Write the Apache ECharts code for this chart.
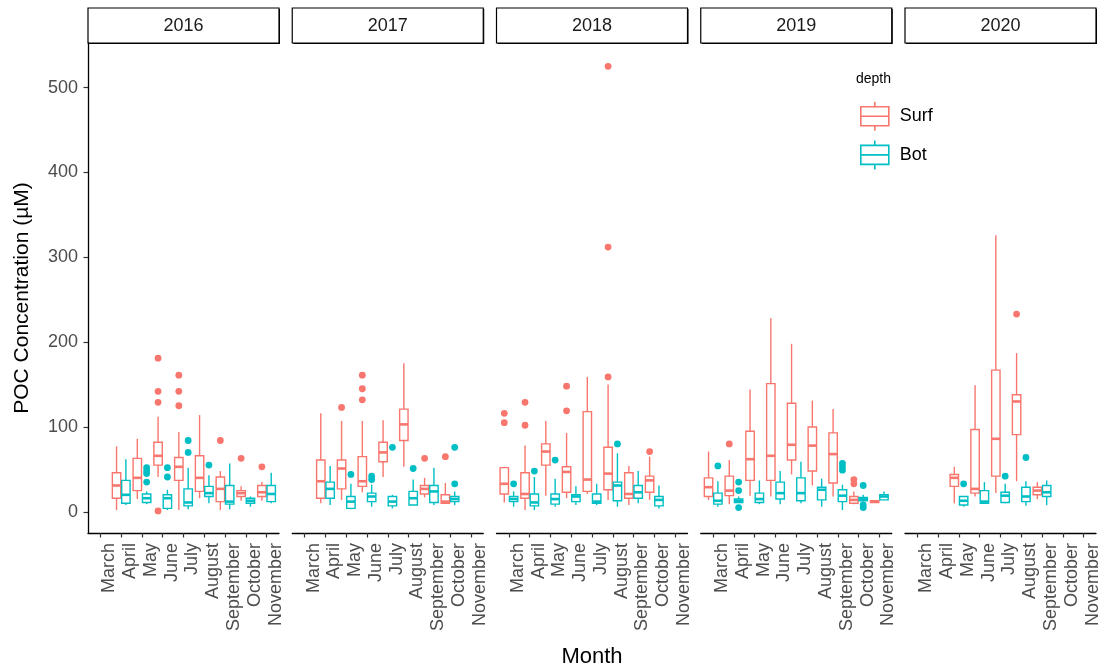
<!DOCTYPE html>
<html>
<head>
<meta charset="utf-8">
<title>POC Concentration by month and depth</title>
<script src="https://cdn.jsdelivr.net/npm/echarts@6/dist/echarts.min.js"></script>
<style>
  html, body { margin: 0; padding: 0; background: #fff; }
  #chart { width: 1108px; height: 671px; }
</style>
</head>
<body>
<div id="chart"></div>
<script>
// Categories
const months = ['March', 'April', 'May', 'June', 'July', 'August', 'September', 'October', 'November'];
const years = ['2016', '2017', '2018', '2019', '2020'];
const yTicks = [0, 100, 200, 300, 400, 500];

// Box statistics per month: [month, lower whisker, Q1, median, Q3, upper whisker]
const surf2016 = [
  ['April', 2, 16, 31, 46, 77],
  ['May', 15, 25, 40, 63, 86],
  ['June', 41, 55, 66, 82, 112],
  ['July', 2, 37, 53, 64, 94],
  ['August', 16, 24, 40, 66, 114],
  ['September', 2, 12, 27, 41, 48],
  ['October', 13, 18, 22, 25, 30],
  ['November', 13, 18, 23, 31, 35]
];
const bot2016 = [
  ['April', 8, 10, 20, 37, 62],
  ['May', 9, 11, 16, 21, 24],
  ['June', 2, 4, 16, 20, 26],
  ['July', 3, 7, 11, 27, 52],
  ['August', 10, 18, 22, 30, 43],
  ['September', 3, 9, 12, 31, 57],
  ['October', 6, 10, 13, 16, 18],
  ['November', 10, 12, 21, 31, 46]
];
const surf2017 = [
  ['April', 10, 16, 36, 61, 116],
  ['May', 14, 27, 51, 61, 107],
  ['June', 23, 30, 36, 65, 107],
  ['July', 41, 59, 70, 82, 108],
  ['August', 53, 84, 103, 121, 175],
  ['September', 17, 21, 27, 31, 40],
  ['October', 10, 10, 12, 20, 34]
];
const bot2017 = [
  ['April', 8, 16, 27, 35, 54],
  ['May', 3, 4, 12, 18, 33],
  ['June', 6, 12, 18, 22, 32],
  ['July', 4, 7, 12, 18, 20],
  ['August', 8, 8, 16, 24, 38],
  ['September', 8, 11, 24, 31, 52],
  ['October', 8, 12, 15, 18, 24]
];
const surf2018 = [
  ['March', 11, 21, 33, 52, 53],
  ['April', 2, 16, 21, 46, 78],
  ['May', 19, 55, 71, 80, 107],
  ['June', 16, 23, 47, 53, 93],
  ['July', 21, 24, 38, 118, 159],
  ['August', 14, 26, 45, 76, 150],
  ['September', 8, 16, 21, 46, 54],
  ['October', 14, 23, 37, 42, 65]
];
const bot2018 = [
  ['March', 6, 12, 15, 18, 24],
  ['April', 2, 7, 11, 21, 41],
  ['May', 6, 9, 15, 21, 39],
  ['June', 8, 12, 18, 20, 30],
  ['July', 8, 10, 12, 21, 33],
  ['August', 6, 13, 31, 35, 69],
  ['September', 10, 16, 23, 31, 48],
  ['October', 4, 7, 14, 18, 31]
];
const surf2019 = [
  ['March', 14, 18, 29, 40, 71],
  ['April', 9, 19, 25, 42, 61],
  ['May', 19, 37, 62, 95, 144],
  ['June', 18, 37, 66, 151, 228],
  ['July', 44, 61, 79, 128, 198],
  ['August', 31, 48, 78, 100, 131],
  ['September', 18, 34, 68, 93, 121],
  ['October', 9, 10, 14, 18, 24],
  ['November', 11, 11, 12, 13, 13]
];
const bot2019 = [
  ['March', 6, 9, 13, 22, 36],
  ['April', 11, 11, 13, 15, 18],
  ['May', 9, 11, 15, 22, 37],
  ['June', 9, 15, 22, 35, 48],
  ['July', 10, 13, 22, 40, 59],
  ['August', 6, 14, 26, 29, 39],
  ['September', 2, 12, 19, 26, 32],
  ['October', 12, 13, 15, 17, 20],
  ['November', 14, 14, 18, 20, 24]
];
const surf2020 = [
  ['May', 10, 30, 40, 44, 53],
  ['June', 18, 22, 27, 97, 149],
  ['July', 22, 42, 86, 167, 326],
  ['August', 36, 91, 130, 138, 187],
  ['September', 15, 20, 25, 29, 35]
];
const bot2020 = [
  ['May', 6, 8, 13, 18, 18],
  ['June', 10, 10, 12, 25, 35],
  ['July', 10, 11, 19, 23, 33],
  ['August', 7, 12, 18, 29, 36],
  ['September', 8, 18, 23, 31, 37]
];

// Outlying observations: [month, value]
const surfOut2016 = [['June', 181], ['June', 142], ['June', 129], ['June', 1], ['July', 161], ['July', 142], ['July', 125], ['September', 84], ['October', 63], ['November', 53]];
const botOut2016 = [['May', 52], ['May', 48], ['May', 45], ['May', 35], ['June', 52], ['June', 41], ['July', 84], ['July', 70], ['August', 55]];
const surfOut2017 = [['May', 123], ['June', 161], ['June', 145], ['June', 132], ['September', 63], ['October', 65]];
const botOut2017 = [['May', 44], ['June', 42], ['June', 38], ['July', 76], ['August', 51], ['October', 76], ['October', 33]];
const surfOut2018 = [['March', 116], ['March', 105], ['April', 129], ['April', 102], ['June', 148], ['June', 119], ['August', 525], ['August', 312], ['August', 159], ['October', 71]];
const botOut2018 = [['March', 33], ['April', 48], ['May', 61], ['August', 80]];
const surfOut2019 = [['April', 80], ['October', 38], ['October', 33]];
const botOut2019 = [['March', 54], ['April', 35], ['April', 25], ['April', 5], ['September', 57], ['September', 53], ['September', 49], ['October', 31], ['October', 8], ['October', 5]];
const surfOut2020 = [['August', 233]];
const botOut2020 = [['May', 33], ['July', 42], ['August', 64]];

const surfBoxes = [surf2016, surf2017, surf2018, surf2019, surf2020];
const botBoxes = [bot2016, bot2017, bot2018, bot2019, bot2020];
const surfOutliers = [surfOut2016, surfOut2017, surfOut2018, surfOut2019, surfOut2020];
const botOutliers = [botOut2016, botOut2017, botOut2018, botOut2019, botOut2020];

// Styling and layout
const SURF = '#F8766D';
const BOT = '#00BFC4';
const FONT = "'Liberation Sans', Arial, sans-serif";
const PANEL_LEFT = 88, PANEL_STEP = 204.25, PANEL_W = 191;
const PLOT_TOP = 43, PLOT_H = 490;
const STRIP_TOP = 8, STRIP_H = 35;
const Y_MIN = -25, Y_MAX = 552.5;
const unit = PANEL_W / 9.2;          // one month slot, with 0.6 slot padding each side

const monthIdx = m => months.indexOf(m);

function boxRenderer(color, side) {
  return function (params, api) {
    const i = api.value(0);
    const band = api.size([1, 0])[0];
    const cx = api.coord([i, 0])[0] + side * band * 0.225;
    const hw = band * 0.2025;
    const y = v => api.coord([i, v])[1];
    const yLow = y(api.value(1)), yQ1 = y(api.value(2)), yMed = y(api.value(3));
    const yQ3 = y(api.value(4)), yHigh = y(api.value(5));
    const line = { stroke: color, lineWidth: 1.4 };
    return {
      type: 'group',
      children: [
        { type: 'rect', shape: { x: cx - hw, y: yQ3, width: 2 * hw, height: yQ1 - yQ3 }, style: { fill: '#fff', stroke: color, lineWidth: 1.4 } },
        { type: 'line', shape: { x1: cx, y1: yQ3, x2: cx, y2: yHigh }, style: line },
        { type: 'line', shape: { x1: cx, y1: yQ1, x2: cx, y2: yLow }, style: line },
        { type: 'line', shape: { x1: cx - hw, y1: yMed, x2: cx + hw, y2: yMed }, style: { stroke: color, lineWidth: 2.6 } }
      ]
    };
  };
}

function pointRenderer(color, side) {
  return function (params, api) {
    const i = api.value(0);
    const band = api.size([1, 0])[0];
    const p = api.coord([i, api.value(1)]);
    return { type: 'circle', shape: { cx: p[0] + side * band * 0.225, cy: p[1], r: 3.4 }, style: { fill: color } };
  };
}

const grids = [], xAxes = [], yAxes = [], series = [], graphics = [];

years.forEach((yr, k) => {
  const left = PANEL_LEFT + k * PANEL_STEP;
  // frame grid: full panel, carries the axis lines
  grids.push({ left: left, top: PLOT_TOP, width: PANEL_W, height: PLOT_H });
});
years.forEach((yr, k) => {
  const left = PANEL_LEFT + k * PANEL_STEP;
  // data grid: nine month slots inset by 0.1 slot
  grids.push({ left: left + 0.1 * unit, top: PLOT_TOP, width: 9 * unit, height: PLOT_H });
});

years.forEach((yr, k) => {
  xAxes.push({
    gridIndex: k, type: 'value', min: 0, max: 1,
    axisLine: { show: true, onZero: false, lineStyle: { color: '#000', width: 1.3 } },
    axisTick: { show: false }, axisLabel: { show: false }, splitLine: { show: false }
  });
  yAxes.push({
    gridIndex: k, type: 'value', min: Y_MIN, max: Y_MAX, show: k === 0,
    axisLine: { show: true, onZero: false, lineStyle: { color: '#000', width: 1.3 } },
    axisTick: { show: true, length: 4.5, customValues: yTicks, lineStyle: { color: '#333', width: 1.2 } },
    axisLabel: { customValues: yTicks, fontFamily: FONT, fontSize: 18, color: '#4D4D4D', margin: 10 },
    splitLine: { show: false }
  });
});
years.forEach((yr, k) => {
  xAxes.push({
    gridIndex: 5 + k, type: 'category', data: months, boundaryGap: true,
    axisLine: { show: false, onZero: false },
    axisTick: { show: true, alignWithLabel: true, length: 4.5, lineStyle: { color: '#333', width: 1.2 } },
    axisLabel: {
      interval: 0, rotate: 90, verticalAlign: 'top', margin: 10,
      fontFamily: FONT, fontSize: 18, color: '#4D4D4D'
    },
    splitLine: { show: false }
  });
  yAxes.push({ gridIndex: 5 + k, type: 'value', min: Y_MIN, max: Y_MAX, show: false, splitLine: { show: false } });
});

years.forEach((yr, k) => {
  const common = { xAxisIndex: 5 + k, yAxisIndex: 5 + k, animation: false, silent: true };
  series.push(Object.assign({
    type: 'custom', name: 'Surf',
    renderItem: boxRenderer(SURF, -1),
    data: surfBoxes[k].map(r => [monthIdx(r[0]), r[1], r[2], r[3], r[4], r[5]]),
    itemStyle: { color: SURF }
  }, common));
  series.push(Object.assign({
    type: 'custom', name: 'Bot',
    renderItem: boxRenderer(BOT, 1),
    data: botBoxes[k].map(r => [monthIdx(r[0]), r[1], r[2], r[3], r[4], r[5]]),
    itemStyle: { color: BOT }
  }, common));
  series.push(Object.assign({
    type: 'custom', name: 'Surf',
    renderItem: pointRenderer(SURF, -1),
    data: surfOutliers[k].map(r => [monthIdx(r[0]), r[1]]),
    itemStyle: { color: SURF }
  }, common));
  series.push(Object.assign({
    type: 'custom', name: 'Bot',
    renderItem: pointRenderer(BOT, 1),
    data: botOutliers[k].map(r => [monthIdx(r[0]), r[1]]),
    itemStyle: { color: BOT }
  }, common));

  // facet strip
  const left = PANEL_LEFT + k * PANEL_STEP;
  graphics.push({
    type: 'group', silent: true,
    children: [
      { type: 'rect', shape: { x: left + 1, y: STRIP_TOP + 1, width: PANEL_W, height: STRIP_H }, style: { fill: '#000' } },
      { type: 'rect', shape: { x: left, y: STRIP_TOP, width: PANEL_W, height: STRIP_H }, style: { fill: '#fff', stroke: '#000', lineWidth: 1.2 } },
      { type: 'text', x: left + PANEL_W / 2, y: STRIP_TOP + STRIP_H / 2 + 1, style: { text: yr, font: '18px ' + FONT, fill: '#1A1A1A', align: 'center', verticalAlign: 'middle' } }
    ]
  });
});

// axis titles and legend heading
graphics.push({ type: 'text', silent: true, x: 22, y: 298, rotation: Math.PI / 2, style: { text: 'POC Concentration (µM)', font: '21px ' + FONT, fill: '#000', align: 'center', verticalAlign: 'middle' } });
graphics.push({ type: 'text', silent: true, x: 592, y: 657, style: { text: 'Month', font: '22px ' + FONT, fill: '#000', align: 'center', verticalAlign: 'middle' } });
graphics.push({ type: 'text', silent: true, x: 856, y: 79, style: { text: 'depth', font: '14px ' + FONT, fill: '#000', align: 'left', verticalAlign: 'middle' } });

const keyIcon = 'path://M14,0 L14,5 M0,5 L28,5 L28,24 L0,24 Z M0,14.5 L28,14.5 M14,24 L14,29';

const option = {
  backgroundColor: '#fff',
  animation: false,
  grid: grids,
  xAxis: xAxes,
  yAxis: yAxes,
  legend: {
    orient: 'vertical', left: 855, top: 96,
    itemWidth: 28, itemHeight: 29, itemGap: 8,
    selectedMode: false,
    textStyle: { fontFamily: FONT, fontSize: 18, color: '#000', padding: [0, 0, 0, 6] },
    data: [
      { name: 'Surf', icon: keyIcon, itemStyle: { color: '#fff', borderColor: SURF, borderWidth: 1.6 } },
      { name: 'Bot', icon: keyIcon, itemStyle: { color: '#fff', borderColor: BOT, borderWidth: 1.6 } }
    ]
  },
  graphic: graphics,
  series: series
};

const chart = echarts.init(document.getElementById('chart'), null, { renderer: 'canvas' });
chart.setOption(option);
</script>
</body>
</html>
